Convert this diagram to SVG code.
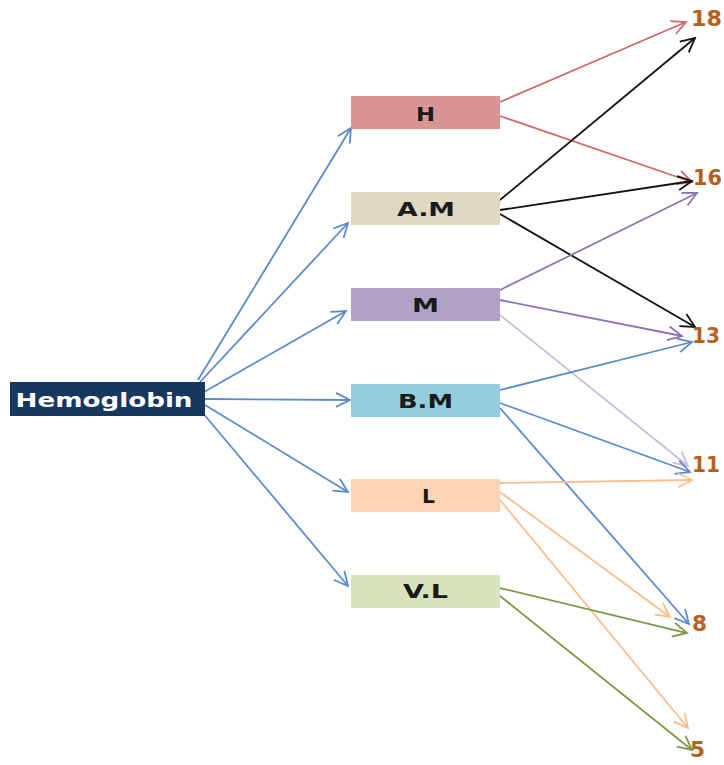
<svg xmlns="http://www.w3.org/2000/svg" width="724" height="765" viewBox="0 0 724 765">
<style>
.box text{font-family:"DejaVu Sans","Liberation Sans",sans-serif;font-weight:bold;font-size:20px;fill:#1a1a1a;text-anchor:middle}
.num{font-family:"DejaVu Sans","Liberation Sans",sans-serif;font-weight:bold;font-size:20.5px;fill:#B5611C}
.c line{stroke-width:1.8;fill:none}
.blue{stroke:#5B8BCB}
.red{stroke:#D06A68}
.blk{stroke:#111111}
.pur{stroke:#8E74B5}
.lpur{stroke:#C9BEDD}
.org{stroke:#F9BE8F}
.grn{stroke:#7A9A45}
</style>
<defs>
<marker id="mb" markerUnits="userSpaceOnUse" markerWidth="17" markerHeight="16" refX="15" refY="8" orient="auto" viewBox="0 0 17 16"><path d="M1,1 L15,8 L1,15" fill="none" stroke="#5B8BCB" stroke-width="1.8"/></marker>
<marker id="mr" markerUnits="userSpaceOnUse" markerWidth="17" markerHeight="16" refX="15" refY="8" orient="auto" viewBox="0 0 17 16"><path d="M1,1 L15,8 L1,15" fill="none" stroke="#D06A68" stroke-width="1.8"/></marker>
<marker id="mk" markerUnits="userSpaceOnUse" markerWidth="17" markerHeight="16" refX="15" refY="8" orient="auto" viewBox="0 0 17 16"><path d="M1,1 L15,8 L1,15" fill="none" stroke="#111111" stroke-width="1.8"/></marker>
<marker id="mp" markerUnits="userSpaceOnUse" markerWidth="17" markerHeight="16" refX="15" refY="8" orient="auto" viewBox="0 0 17 16"><path d="M1,1 L15,8 L1,15" fill="none" stroke="#8E74B5" stroke-width="1.8"/></marker>
<marker id="mlp" markerUnits="userSpaceOnUse" markerWidth="17" markerHeight="16" refX="15" refY="8" orient="auto" viewBox="0 0 17 16"><path d="M1,1 L15,8 L1,15" fill="none" stroke="#C9BEDD" stroke-width="1.8"/></marker>
<marker id="mo" markerUnits="userSpaceOnUse" markerWidth="17" markerHeight="16" refX="15" refY="8" orient="auto" viewBox="0 0 17 16"><path d="M1,1 L15,8 L1,15" fill="none" stroke="#F9BE8F" stroke-width="1.8"/></marker>
<marker id="mg" markerUnits="userSpaceOnUse" markerWidth="17" markerHeight="16" refX="15" refY="8" orient="auto" viewBox="0 0 17 16"><path d="M1,1 L15,8 L1,15" fill="none" stroke="#7A9A45" stroke-width="1.8"/></marker>
</defs>
<rect width="724" height="765" fill="#ffffff"/>
<g id="connectors" class="c">
<line class="blue" x1="198" y1="380" x2="351" y2="128" marker-end="url(#mb)"/>
<line class="blue" x1="200" y1="382" x2="348" y2="223" marker-end="url(#mb)"/>
<line class="blue" x1="204" y1="392" x2="346" y2="311" marker-end="url(#mb)"/>
<line class="blue" x1="205" y1="399" x2="350" y2="400" marker-end="url(#mb)"/>
<line class="blue" x1="205" y1="405" x2="348" y2="492" marker-end="url(#mb)"/>
<line class="blue" x1="202" y1="412" x2="348" y2="586" marker-end="url(#mb)"/>
<line class="red" x1="500" y1="102" x2="686" y2="22" marker-end="url(#mr)"/>
<line class="red" x1="500" y1="116" x2="692" y2="182" marker-end="url(#mr)"/>
<line class="blk" x1="500" y1="200" x2="695" y2="38" marker-end="url(#mk)"/>
<line class="blk" x1="500" y1="210" x2="692" y2="181" marker-end="url(#mk)"/>
<line class="blk" x1="500" y1="214" x2="695" y2="327" marker-end="url(#mk)"/>
<line class="pur" x1="500" y1="290" x2="697" y2="193" marker-end="url(#mp)"/>
<line class="pur" x1="500" y1="300" x2="682" y2="336" marker-end="url(#mp)"/>
<line class="lpur" x1="500" y1="315" x2="688" y2="466" marker-end="url(#mlp)"/>
<line class="blue" x1="500" y1="390" x2="692" y2="342" marker-end="url(#mb)"/>
<line class="blue" x1="500" y1="403" x2="690" y2="472" marker-end="url(#mb)"/>
<line class="blue" x1="500" y1="408" x2="689" y2="624" marker-end="url(#mb)"/>
<line class="org" x1="500" y1="483" x2="692" y2="480" marker-end="url(#mo)"/>
<line class="org" x1="500" y1="492" x2="670" y2="617" marker-end="url(#mo)"/>
<line class="org" x1="500" y1="500" x2="688" y2="728" marker-end="url(#mo)"/>
<line class="grn" x1="500" y1="588" x2="687" y2="633" marker-end="url(#mg)"/>
<line class="grn" x1="500" y1="596" x2="692" y2="750" marker-end="url(#mg)"/>
</g>
<g id="hemoglobin" class="box">
<rect x="10" y="382" width="195" height="34" fill="#17375E"/>
<text x="104" y="407" textLength="177" lengthAdjust="spacingAndGlyphs" style="fill:#ffffff;font-size:19.5px">Hemoglobin</text>
</g>
<g id="H" class="box"><rect x="351" y="96" width="149" height="33" fill="#D99594"/><text x="425.5" y="121" textLength="19" lengthAdjust="spacingAndGlyphs">H</text></g>
<g id="AM" class="box"><rect x="351" y="192" width="149" height="33" fill="#DDD9C3"/><text x="426" y="216" textLength="58" lengthAdjust="spacingAndGlyphs">A.M</text></g>
<g id="M" class="box"><rect x="351" y="288" width="149" height="33" fill="#B2A1C7"/><text x="425.5" y="312" textLength="27" lengthAdjust="spacingAndGlyphs">M</text></g>
<g id="BM" class="box"><rect x="351" y="384" width="149" height="33" fill="#92CDDC"/><text x="425.5" y="408" textLength="55" lengthAdjust="spacingAndGlyphs">B.M</text></g>
<g id="L" class="box"><rect x="351" y="479" width="149" height="33" fill="#FBD4B4"/><text x="428.5" y="503" textLength="13" lengthAdjust="spacingAndGlyphs">L</text></g>
<g id="VL" class="box"><rect x="351" y="575" width="149" height="33" fill="#D7E3BC"/><text x="425.5" y="598" textLength="45" lengthAdjust="spacingAndGlyphs">V.L</text></g>
<g id="n18"><text class="num" x="691" y="26" textLength="31" lengthAdjust="spacingAndGlyphs">18</text></g>
<g id="n16"><text class="num" x="693" y="185" textLength="29" lengthAdjust="spacingAndGlyphs">16</text></g>
<g id="n13"><text class="num" x="692" y="343" textLength="28" lengthAdjust="spacingAndGlyphs">13</text></g>
<g id="n11"><text class="num" x="692" y="472" textLength="28" lengthAdjust="spacingAndGlyphs">11</text></g>
<g id="n8"><text class="num" x="692" y="631" textLength="15" lengthAdjust="spacingAndGlyphs">8</text></g>
<g id="n5"><text class="num" x="690" y="757" textLength="15" lengthAdjust="spacingAndGlyphs">5</text></g>
</svg>
